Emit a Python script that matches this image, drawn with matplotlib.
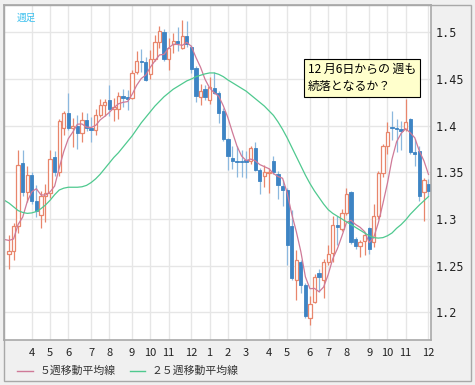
import matplotlib
matplotlib.use('Agg')
import matplotlib.pyplot as plt
from matplotlib.patches import Rectangle
from matplotlib.lines import Line2D
import numpy as np
import pandas as pd

plt.rcParams['font.family'] = ['Noto Sans CJK JP', 'DejaVu Sans']

# weekly candles, first week starts 2009-03-02
start_week = '2009-03-02'

opens = [1.262, 1.266, 1.293, 1.360, 1.329, 1.347, 1.319, 1.304, 1.325, 1.328,
         1.366, 1.350, 1.398, 1.4135, 1.397, 1.400, 1.392, 1.406, 1.397, 1.395,
         1.411, 1.422, 1.427, 1.418, 1.418, 1.432, 1.430, 1.430, 1.457, 1.469,
         1.468, 1.455, 1.471, 1.490, 1.500, 1.471, 1.487, 1.491, 1.483, 1.496,
         1.484, 1.462, 1.431, 1.439, 1.428, 1.440, 1.435, 1.4154, 1.3857, 1.365,
         1.362, 1.362, 1.363, 1.362, 1.376, 1.353, 1.3465, 1.349, 1.362, 1.3486,
         1.335, 1.331, 1.292, 1.2346, 1.254, 1.229, 1.1936, 1.2114, 1.242, 1.2346,
         1.2543, 1.2636, 1.294, 1.2893, 1.3064, 1.329, 1.278, 1.2714, 1.2765, 1.290,
         1.275, 1.3036, 1.349, 1.3786, 1.399, 1.397, 1.396, 1.3964, 1.407, 1.3714,
         1.3732, 1.3293, 1.3375]
highs = [1.283, 1.296, 1.374, 1.374, 1.357, 1.350, 1.336, 1.330, 1.3375, 1.374,
         1.373, 1.407, 1.416, 1.435, 1.408, 1.411, 1.415, 1.414, 1.409, 1.418,
         1.4286, 1.429, 1.444, 1.430, 1.436, 1.439, 1.438, 1.460, 1.480, 1.482,
         1.474, 1.481, 1.497, 1.5064, 1.504, 1.494, 1.499, 1.506, 1.5136, 1.512,
         1.486, 1.464, 1.445, 1.444, 1.452, 1.458, 1.437, 1.419, 1.387, 1.378,
         1.378, 1.374, 1.373, 1.3785, 1.382, 1.355, 1.358, 1.355, 1.368, 1.351,
         1.342, 1.333, 1.310, 1.2668, 1.256, 1.231, 1.217, 1.241, 1.246, 1.257,
         1.272, 1.3036, 1.303, 1.311, 1.333, 1.330, 1.281, 1.277, 1.2857, 1.291,
         1.316, 1.351, 1.380, 1.4036, 1.416, 1.407, 1.405, 1.4286, 1.408, 1.3857,
         1.3785, 1.3436, 1.343]
lows = [1.246, 1.256, 1.285, 1.325, 1.318, 1.316, 1.302, 1.290, 1.2964, 1.322,
        1.346, 1.346, 1.390, 1.395, 1.377, 1.375, 1.383, 1.394, 1.383, 1.390,
        1.409, 1.410, 1.410, 1.405, 1.407, 1.420, 1.417, 1.429, 1.455, 1.457,
        1.448, 1.450, 1.469, 1.483, 1.469, 1.460, 1.478, 1.480, 1.482, 1.484,
        1.456, 1.425, 1.422, 1.427, 1.423, 1.434, 1.403, 1.384, 1.353, 1.354,
        1.345, 1.345, 1.344, 1.359, 1.351, 1.327, 1.334, 1.328, 1.348, 1.3215,
        1.3135, 1.251, 1.235, 1.213, 1.221, 1.194, 1.1864, 1.210, 1.222, 1.215,
        1.251, 1.2536, 1.272, 1.287, 1.304, 1.273, 1.268, 1.259, 1.261, 1.262,
        1.270, 1.300, 1.345, 1.370, 1.385, 1.3714, 1.374, 1.394, 1.370, 1.357,
        1.3196, 1.2982, 1.325]
closes = [1.266, 1.293, 1.358, 1.329, 1.347, 1.319, 1.309, 1.325, 1.328, 1.364,
          1.350, 1.405, 1.414, 1.397, 1.400, 1.392, 1.406, 1.397, 1.395, 1.411,
          1.422, 1.425, 1.418, 1.420, 1.432, 1.430, 1.429, 1.4565, 1.469, 1.468,
          1.449, 1.471, 1.490, 1.501, 1.471, 1.483, 1.491, 1.489, 1.4964, 1.487,
          1.461, 1.432, 1.437, 1.431, 1.441, 1.435, 1.4136, 1.3857, 1.368, 1.362,
          1.361, 1.361, 1.361, 1.376, 1.353, 1.3404, 1.350, 1.350, 1.350, 1.3368,
          1.3314, 1.2726, 1.2364, 1.256, 1.229, 1.196, 1.209, 1.238, 1.238, 1.2543,
          1.2625, 1.2936, 1.291, 1.3064, 1.3268, 1.275, 1.2714, 1.2758, 1.283, 1.268,
          1.3036, 1.349, 1.3786, 1.3929, 1.397, 1.396, 1.394, 1.4036, 1.3714, 1.3696,
          1.325, 1.3421, 1.3304]
# closes of the weeks just before the window (needed for the 5 week average)
pre_closes = [1.271, 1.285, 1.280, 1.290, 1.264]
# 25 week average, from one week before the first candle
ma25 = [1.320, 1.317, 1.313, 1.309, 1.307, 1.306, 1.3065, 1.308, 1.311, 1.315,
        1.320, 1.326, 1.331, 1.333, 1.334, 1.334, 1.334, 1.3345, 1.336, 1.339,
        1.343, 1.348, 1.354, 1.360, 1.366, 1.371, 1.377, 1.383, 1.389, 1.396,
        1.403, 1.409, 1.415, 1.421, 1.426, 1.431, 1.435, 1.439, 1.442, 1.445,
        1.448, 1.450, 1.4525, 1.454, 1.4555, 1.4565, 1.4565, 1.455, 1.4525, 1.449,
        1.446, 1.443, 1.440, 1.437, 1.433, 1.429, 1.425, 1.421, 1.416, 1.411,
        1.404, 1.396, 1.387, 1.377, 1.367, 1.357, 1.347, 1.338, 1.330, 1.323,
        1.316, 1.310, 1.306, 1.303, 1.300, 1.297, 1.294, 1.291, 1.288, 1.285,
        1.282, 1.280, 1.2795, 1.280, 1.282, 1.285, 1.290, 1.294, 1.299, 1.305,
        1.310, 1.315, 1.3195, 1.324]

y_ticks = [1.2, 1.25, 1.3, 1.35, 1.4, 1.45, 1.5]
legend_labels = ['５週移動平均線', '２５週移動平均線']
note = '12 月6日からの 週も\n続落となるか？'

up_col = '#e8866c'
down_col = '#3d84c4'
down_wick = '#8cb8de'
ma5_col = '#cf7a98'
ma25_col = '#4fc98f'

W, H = 475, 385
fig = plt.figure(figsize=(W / 100, H / 100), dpi=100, facecolor='#f0f0f0')

def fx(px):
    return px / W

def fy(py):
    return 1 - py / H

ax = fig.add_axes([fx(4), fy(340), fx(431) - fx(4), fy(5) - fy(340)])
ax.set_facecolor('white')

weeks = pd.date_range(start_week, periods=len(closes), freq='W-MON')
idx = np.arange(len(closes))
month_pos = [i for i in range(1, len(weeks)) if weeks[i].month != weeks[i - 1].month]
month_lab = [str(weeks[i].month) for i in month_pos]

w = 0.72
for i in idx:
    o, h, l, c = opens[i], highs[i], lows[i], closes[i]
    if c >= o:
        ax.vlines(i, l, h, color=up_col, lw=0.9, zorder=2)
        ax.add_patch(Rectangle((i - w / 2, o), w, max(c - o, 0.0008),
                               facecolor='white', edgecolor=up_col, lw=0.9, zorder=2))
    else:
        ax.vlines(i, l, h, color=down_wick, lw=0.9, zorder=2)
        ax.add_patch(Rectangle((i - w / 2, c), w, max(o - c, 0.0012),
                               facecolor=down_col, edgecolor=down_col, lw=0.6, zorder=2))

all_closes = pd.Series(pre_closes + closes)
ma5 = all_closes.rolling(5).mean().values[4:]
ma_x = np.arange(-1, len(closes))
ax.plot(ma_x, ma5, color=ma5_col, lw=0.9, zorder=3)
ax.plot(ma_x, ma25, color=ma25_col, lw=0.9, zorder=3)

ax.set_xlim(-1.1, 92.55)
ax.set_ylim(1.1703, 1.5293)
ax.set_xticks(month_pos)
ax.set_xticklabels(month_lab, fontsize=8, color='#222222')
ax.set_yticks(y_ticks)
ax.set_yticklabels([f'{v:g}' for v in y_ticks], fontsize=8.5, color='#222222',
                   family='DejaVu Sans Mono')
ax.yaxis.tick_right()
ax.tick_params(length=0)
ax.tick_params(axis='x', pad=6)
ax.tick_params(axis='y', pad=3)
ax.grid(True, color='#e6e6e6', lw=1)
ax.set_axisbelow(True)
for s in ax.spines.values():
    s.set_color('#a8a8a8')
    s.set_linewidth(1.2)

ax.text(0.03, 0.975, '週足', transform=ax.transAxes, fontsize=7,
        color='#3cc0ee', va='top', ha='left')

fig.text(fx(308), fy(78), note, fontsize=8.6, color='black', va='center', ha='left',
         linespacing=1.4,
         bbox=dict(boxstyle='square,pad=0.3', facecolor='#ffffcc', edgecolor='black', lw=0.8))

# legend below the plot
fig.add_artist(Line2D([fx(17), fx(33)], [fy(371), fy(371)], color=ma5_col, lw=1))
fig.text(fx(40), fy(371), legend_labels[0], fontsize=7.8, color='#333333', va='center')
fig.add_artist(Line2D([fx(130), fx(145)], [fy(371), fy(371)], color=ma25_col, lw=1))
fig.text(fx(152), fy(371), legend_labels[1], fontsize=7.8, color='#333333', va='center')

# outer frame
fig.add_artist(Rectangle((fx(4), fy(381)), fx(471) - fx(4), fy(5) - fy(381),
                         transform=fig.transFigure, fill=False, edgecolor='#a8a8a8', lw=1))

fig.savefig('out.png', dpi=100, facecolor=fig.get_facecolor())
